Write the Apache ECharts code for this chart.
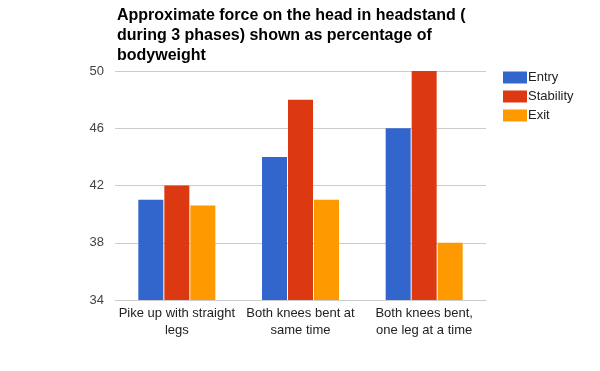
<!DOCTYPE html>
<html><head><meta charset="utf-8">
<script src="https://cdn.jsdelivr.net/npm/echarts@6/dist/echarts.min.js"></script>
<style>html,body{margin:0;padding:0;background:#fff}#c{width:600px;height:371px}</style>
</head><body><div id="c"></div>
<script>
const titleText = "Approximate force on the head in headstand (\nduring 3 phases) shown as percentage of\nbodyweight";
const categories = ["Pike up with straight\nlegs", "Both knees bent at\nsame time", "Both knees bent,\none leg at a time"];
const seriesNames = ["Entry", "Stability", "Exit"];
const entry = [41, 44, 46];
const stability = [42, 48, 50];
const exitVals = [40.6, 41, 38];
const yTicks = {min: 34, max: 50, interval: 4};
const colors = ["#3366cc", "#dc3912", "#ff9900"];

const chart = echarts.init(document.getElementById('c'), null, {renderer: 'canvas'});
const values = [entry, stability, exitVals];
chart.setOption({
  animation: false,
  color: colors,
  textStyle: {fontFamily: 'Liberation Sans, Arial, sans-serif'},
  title: {
    text: titleText, left: 112, top: 1,
    textStyle: {fontSize: 16, fontWeight: 'bold', color: '#000', lineHeight: 20, fontFamily: 'Liberation Sans, Arial, sans-serif'}
  },
  legend: {
    orient: 'vertical', left: 498, top: 66, itemWidth: 24, itemHeight: 12, itemGap: 6,
    icon: 'rect',
    textStyle: {fontSize: 13, color: '#222', padding: [0, 0, 0, -4]},
    data: seriesNames
  },
  grid: {left: 115, right: 114, top: 71, bottom: 71},
  xAxis: {
    type: 'category', data: categories,
    axisLine: {show: true, lineStyle: {color: '#ccc'}},
    axisTick: {show: false},
    axisLabel: {fontSize: 13, color: '#222', lineHeight: 17, margin: 5, interval: 0}
  },
  yAxis: {
    type: 'value', min: yTicks.min, max: yTicks.max, interval: yTicks.interval,
    axisLine: {show: false}, axisTick: {show: false},
    splitLine: {lineStyle: {color: '#ccc'}},
    axisLabel: {fontSize: 13, color: '#444', margin: 11}
  },
  series: seriesNames.map((n, i) => ({
    name: n, type: 'bar', data: values[i], barWidth: 25, barGap: '4%'
  }))
});
</script></body></html>
